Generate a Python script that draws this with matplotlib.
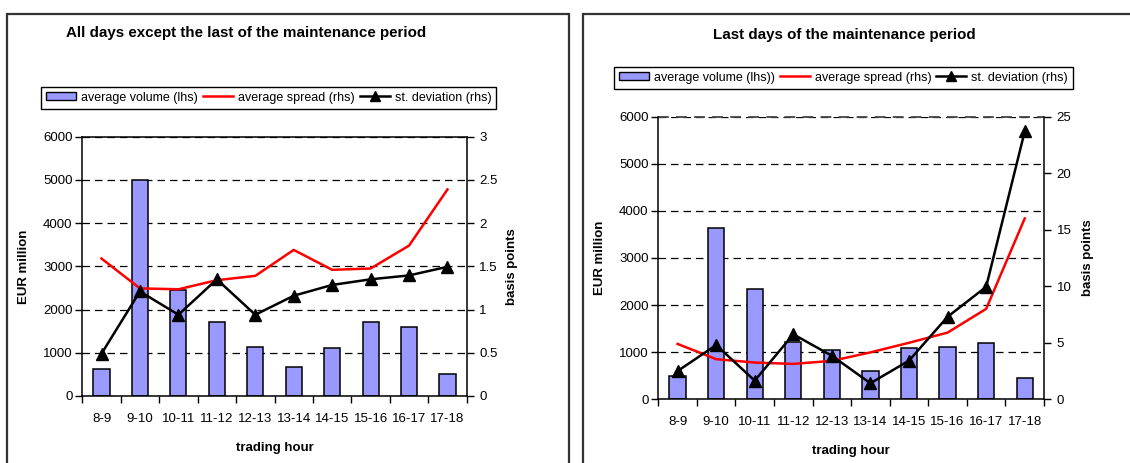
import numpy as np
import matplotlib.pyplot as plt
from matplotlib.patches import Rectangle, Patch
from matplotlib.lines import Line2D
from matplotlib.ticker import MultipleLocator

plt.rcParams['font.family'] = ['Liberation Sans', 'DejaVu Sans']

hours = ["8-9", "9-10", "10-11", "11-12", "12-13", "13-14", "14-15", "15-16", "16-17", "17-18"]

# all days except the last of the maintenance period
volume_a = [625, 5000, 2450, 1720, 1125, 680, 1105, 1720, 1605, 510]
spread_a = [1.59, 1.245, 1.235, 1.34, 1.39, 1.69, 1.46, 1.475, 1.74, 2.39]
stdev_a = [0.49, 1.21, 0.94, 1.35, 0.94, 1.16, 1.285, 1.35, 1.395, 1.495]

# last days of the maintenance period
volume_b = [495, 3645, 2340, 1225, 1040, 600, 1095, 1120, 1205, 445]
spread_b = [4.9, 3.55, 3.25, 3.13, 3.4, 4.15, 5.0, 5.9, 8.0, 16.0]
stdev_b = [2.5, 4.8, 1.65, 5.75, 3.85, 1.42, 3.42, 7.3, 9.95, 23.7]

bar_color = "#9999ff"
fs = 9.5

fig = plt.figure(figsize=(11.3, 4.63), dpi=100)

# panel frames
for x0 in (7 / 1130, 583.3 / 1130):
    fig.add_artist(Rectangle((x0, -0.2), 562 / 1130, 1.2 - 14 / 463, transform=fig.transFigure,
                             fill=False, edgecolor="#333333", linewidth=1.6))


def draw_panel(rect, title, title_xy, volume, spread, stdev, rmax, rstep, legend_xy, vol_label,
               top_dashed, ylab_x, rlab_x, xlab_y):
    ax = fig.add_axes(rect)
    x = np.arange(len(hours))
    ax.bar(x, volume, width=0.42, color=bar_color, edgecolor="black", linewidth=1.1, zorder=2)
    ax.set_xlim(-0.5, len(hours) - 0.5)
    ax.set_ylim(0, 6000)
    ax.yaxis.set_major_locator(MultipleLocator(1000))
    ax.set_axisbelow(True)
    ax.grid(axis="y", color="black", linestyle=(0, (6, 4)), linewidth=0.9)
    ax.set_xticks(x)
    ax.set_xticklabels(hours)
    ax.set_xticks(np.arange(-0.5, len(hours)), minor=True)
    ax.tick_params(axis="x", which="major", length=0, pad=12, labelsize=fs)
    ax.tick_params(axis="x", which="minor", length=5, direction="out", width=1)
    ax.tick_params(axis="y", length=5, width=1, labelsize=fs, pad=2)
    for s in ("left", "bottom", "right"):
        ax.spines[s].set_linewidth(1.1)
    if top_dashed:
        ax.spines["top"].set_visible(False)
        ax.axhline(6000, color="#444444", linestyle=(0, (6, 4)), linewidth=1.3, clip_on=False)
    else:
        ax.spines["top"].set_linewidth(1.1)

    ax.set_ylabel("EUR million", fontsize=fs, fontweight="bold")
    ax.yaxis.set_label_coords(ylab_x, 0.5)
    ax.set_xlabel("trading hour", fontsize=fs, fontweight="bold")
    ax.xaxis.set_label_coords(0.5, xlab_y)

    ax2 = ax.twinx()
    ax2.plot(x, spread, color="red", linewidth=1.8, zorder=3)
    ax2.plot(x, stdev, color="black", linewidth=1.8, marker="^", markersize=9, zorder=4)
    ax2.set_ylim(0, rmax)
    ax2.yaxis.set_major_locator(MultipleLocator(rstep))
    ax2.yaxis.set_major_formatter(plt.FuncFormatter(lambda v, p: f"{v:g}"))
    ax2.tick_params(axis="y", length=5, width=1, labelsize=fs, pad=4)
    for s in ax2.spines.values():
        s.set_visible(False)
    ax2.set_ylabel("basis points", fontsize=fs, fontweight="bold")
    ax2.yaxis.set_label_coords(rlab_x, 0.5)

    fig.text(title_xy[0], title_xy[1], title, ha="center", va="center",
             fontsize=10.9, fontweight="bold")

    handles = [Patch(facecolor=bar_color, edgecolor="black", linewidth=1),
               Line2D([], [], color="red", linewidth=1.8),
               Line2D([], [], color="black", linewidth=1.8, marker="^", markersize=7)]
    labels = [vol_label, "average spread (rhs)", "st. deviation (rhs)"]
    leg = ax2.legend(handles, labels, ncol=3, loc="center", bbox_to_anchor=legend_xy,
                     bbox_transform=fig.transFigure, fontsize=9, frameon=True, fancybox=False,
                     edgecolor="black", framealpha=1, handlelength=2.4, handleheight=0.6,
                     columnspacing=0.4, handletextpad=0.4, borderpad=0.4, borderaxespad=0)
    leg.get_frame().set_linewidth(1.0)
    return ax, ax2


draw_panel([82.3 / 1130, 1 - 396 / 463, 384.4 / 1130, 259.3 / 463],
           "All days except the last of the maintenance period", (246 / 1130, 1 - 33 / 463),
           volume_a, spread_a, stdev_a, 3, 0.5, (268.7 / 1130, 1 - 97.5 / 463),
           "average volume (lhs)", False, -0.136, 1.102, -0.176)

draw_panel([658.3 / 1130, 1 - 399.3 / 463, 385.7 / 1130, 282.6 / 463],
           "Last days of the maintenance period", (844.7 / 1130, 1 - 35 / 463),
           volume_b, spread_b, stdev_b, 25, 5, (843.3 / 1130, 1 - 77.5 / 463),
           "average volume (lhs))", True, -0.1356, 1.098, -0.162)

fig.savefig("out.png", dpi=100)
